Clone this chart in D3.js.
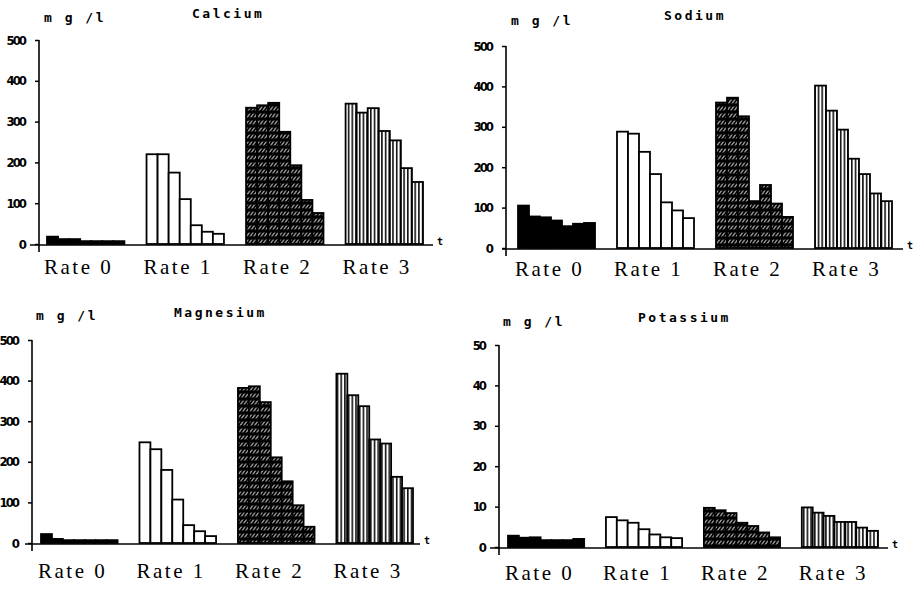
<!DOCTYPE html>
<html>
<head>
<meta charset="utf-8">
<script src="https://cdn.jsdelivr.net/npm/d3@7"></script>
<style>
  body { margin: 0; background: #fff; }
  .ytick { font-family: "DejaVu Sans Condensed", "DejaVu Sans", sans-serif; font-weight: bold; font-size: 13px; letter-spacing: -2px; }
  .rate { font-family: "Liberation Serif", serif; font-size: 21px; letter-spacing: 2.5px; }
  .title, .unit { font-family: "DejaVu Sans Mono", monospace; font-weight: bold; font-size: 13px; letter-spacing: 2.5px; }
</style>
</head>
<body>
<script>
const rates = ['Rate 0', 'Rate 1', 'Rate 2', 'Rate 3']
const titles = ['Calcium', 'Sodium', 'Magnesium', 'Potassium']
const yMax = [500, 500, 500, 50]
const yTicks = [[0,100,200,300,400,500],[0,100,200,300,400,500],[0,100,200,300,400,500],[0,10,20,30,40,50]]

// 7 samples per rate
const calcium = [
  [18, 12, 12, 7, 7, 7, 7],
  [220, 220, 175, 110, 46, 30, 25],
  [334, 340, 346, 275, 193, 108, 76],
  [344, 322, 333, 277, 254, 186, 152]
]
const sodium = [
  [105, 78, 76, 68, 54, 60, 62],
  [288, 283, 238, 183, 113, 93, 74],
  [360, 372, 326, 116, 156, 110, 77],
  [402, 340, 293, 221, 183, 135, 116]
]
const magnesium = [
  [22, 10, 7, 7, 7, 7, 7],
  [248, 231, 180, 107, 44, 29, 17],
  [382, 386, 347, 211, 152, 93, 40],
  [417, 364, 337, 255, 245, 163, 135]
]
const potassium = [
  [2.8, 2.3, 2.4, 1.7, 1.7, 1.7, 2.0],
  [7.4, 6.6, 6.0, 4.4, 3.1, 2.4, 2.2],
  [9.7, 9.1, 8.4, 6.0, 5.2, 3.6, 2.4],
  [9.8, 8.5, 7.7, 6.2, 6.2, 4.8, 4.0]
]
const series = [calcium, sodium, magnesium, potassium]

// layout of each panel (axis x, zero y, top y, bar range, axis line ends)
const panels = [
  {ax: 39, y0: 244, yTop: 40, b0: 47, b1: 423, l0: 30, l1: 433, labY: 274, titleX: 192, titleY: 18, unitX: 44, unitY: 22},
  {ax: 506, y0: 248, yTop: 46, b0: 518, b1: 892, l0: 502, l1: 903, labY: 276, titleX: 664, titleY: 20, unitX: 511, unitY: 25},
  {ax: 32, y0: 543, yTop: 340, b0: 41, b1: 413, l0: 25, l1: 420, labY: 578, titleX: 174, titleY: 317, unitX: 36, unitY: 320},
  {ax: 499, y0: 547, yTop: 345, b0: 508, b1: 878, l0: 490, l1: 888, labY: 580, titleX: 638, titleY: 322, unitX: 503, unitY: 326}
]

const width = 919, height = 589
const svg = d3.select('body').append('svg')
  .attr('width', width)
  .attr('height', height)

const defs = svg.append('defs')
let hatch = defs.append('pattern')
  .attr('id', 'hatch')
  .attr('patternUnits', 'userSpaceOnUse')
  .attr('width', 3.6).attr('height', 7)
  .attr('patternTransform', 'skewX(-35)')
hatch.append('rect').attr('width', 3.6).attr('height', 7).attr('fill', '#000')
hatch.append('line').attr('x1', 1.8).attr('x2', 1.8).attr('y1', 1.5).attr('y2', 5.5)
  .attr('stroke', '#fff').attr('stroke-width', 1)

let stripes = defs.append('pattern')
  .attr('id', 'stripes')
  .attr('patternUnits', 'userSpaceOnUse')
  .attr('width', 3.7).attr('height', 10)
stripes.append('rect').attr('width', 3.7).attr('height', 10).attr('fill', '#fff')
stripes.append('rect').attr('x', 0).attr('width', 1.6).attr('height', 10).attr('fill', '#111')

const fills = ['#000', '#fff', 'url(#hatch)', 'url(#stripes)']

panels.forEach((p, k) => {
  let g = svg.append('g')
  let y = d3.scaleLinear().domain([0, yMax[k]]).range([p.y0, p.yTop])
  let x = d3.scaleBand().domain(rates).range([p.b0, p.b1]).paddingInner(2/9).paddingOuter(0)
  let xi = d3.scaleBand().domain(d3.range(7)).range([0, x.bandwidth()])

  // bars
  rates.forEach((r, ri) => {
    g.selectAll('.bar' + ri)
      .data(series[k][ri]).enter()
      .append('rect')
      .attr('x', (d, i) => x(r) + xi(i))
      .attr('y', d => y(d))
      .attr('width', xi.bandwidth())
      .attr('height', d => p.y0 - y(d))
      .attr('fill', fills[ri])
      .attr('stroke', '#000')
      .attr('stroke-width', 1.8)
  })

  // y axis
  let yAxis = d3.axisLeft(y).tickValues(yTicks[k]).tickSize(4).tickPadding(10)
  let ya = g.append('g').attr('transform', `translate(${p.ax},0)`).call(yAxis)
  ya.select('.domain').remove()
  ya.selectAll('line').attr('stroke', '#000').attr('stroke-width', 1.5)
  ya.selectAll('text').attr('class', 'ytick').attr('fill', '#000')
  g.append('line')
    .attr('x1', p.ax).attr('x2', p.ax)
    .attr('y1', p.yTop).attr('y2', p.y0 + 8)
    .attr('stroke', '#000').attr('stroke-width', 1.6)

  // x axis line
  g.append('line')
    .attr('x1', p.l0).attr('x2', p.l1)
    .attr('y1', p.y0 + 1).attr('y2', p.y0 + 1)
    .attr('stroke', '#000').attr('stroke-width', 1.6)
  g.append('text').attr('class', 'title')
    .attr('x', p.l1 + 4).attr('y', p.y0 + 1)
    .style('font-size', '10px')
    .text('t')

  // rate labels
  g.selectAll('.rate')
    .data(rates).enter()
    .append('text')
    .attr('class', 'rate')
    .attr('x', d => x(d) - 3)
    .attr('y', p.labY)
    .text(d => d)

  g.append('text').attr('class', 'title')
    .attr('x', p.titleX).attr('y', p.titleY)
    .text(titles[k])
  g.append('text').attr('class', 'unit')
    .attr('x', p.unitX).attr('y', p.unitY)
    .text('m g /l')
})
</script>
</body>
</html>
